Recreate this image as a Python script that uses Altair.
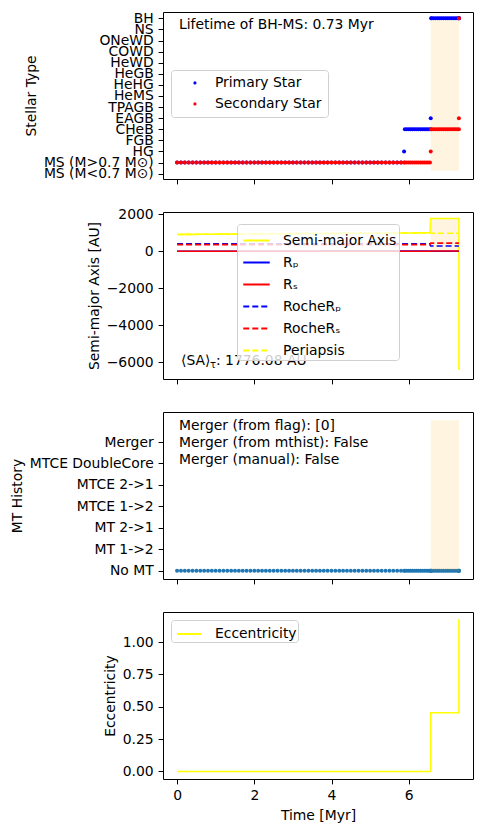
import altair as alt
import pandas as pd

# ---------------- data ----------------
time_myr = [
    0.0, 0.1, 0.2, 0.3, 0.4, 0.5, 0.6, 0.7, 0.8, 0.9,
    1.0, 1.1, 1.2, 1.3, 1.4, 1.5, 1.6, 1.7, 1.8, 1.9,
    2.0, 2.1, 2.2, 2.3, 2.4, 2.5, 2.6, 2.7, 2.8, 2.9,
    3.0, 3.1, 3.2, 3.3, 3.4, 3.5, 3.6, 3.7, 3.8, 3.9,
    4.0, 4.1, 4.2, 4.3, 4.4, 4.5, 4.6, 4.7, 4.8, 4.9,
    5.0, 5.1, 5.2, 5.3, 5.4, 5.5, 5.6, 5.7, 5.8,
    5.88,
    5.9, 5.95, 6.0, 6.05, 6.1, 6.15, 6.2, 6.25, 6.3, 6.35, 6.4, 6.45, 6.5, 6.55,
    6.57,
    6.58, 6.6, 6.65, 6.7, 6.75, 6.8, 6.85, 6.9, 6.95, 7.0, 7.05, 7.1, 7.15, 7.2, 7.25, 7.3,
    7.3, 7.3,
]
primary_type = [1] * 59 + [2] + [4] * 14 + [5] + [14] * 16 + [14, 14]
secondary_type = [1] * 59 + [1] + [1] * 14 + [2] + [4] * 16 + [5, 14]
mt_history = [0] * 93

type_labels = ["MS (M<0.7 M⊙)", "MS (M>0.7 M⊙)", "HG", "FGB", "CHeB", "EAGB", "TPAGB",
               "HeMS", "HeHG", "HeGB", "HeWD", "COWD", "ONeWD", "NS", "BH"]
mt_labels = ["No MT", "MT 1->2", "MT 2->1", "MTCE 1->2", "MTCE 2->1", "MTCE DoubleCore", "Merger"]

bh_ms_start = 6.57
bh_ms_end = 7.30

sma_time = [0.0, 1.0, 2.0, 3.0, 4.0, 5.0, 6.0, 6.55, 6.57, 7.3, 7.3]
sma_au = [910, 925, 940, 955, 968, 980, 992, 1000, 1776, 1776, -6415]
peri_time = [0.0, 1.0, 2.0, 3.0, 4.0, 5.0, 6.0, 6.55, 6.57, 7.3]
peri_au = [910, 925, 940, 955, 968, 980, 992, 1000, 978, 978]
rad_time = [0.0, 6.55, 6.57, 7.3]
rp_au = [1, 12, 0.0, 0.0]
rs_au = [1, 1, 15, 15]
roche_p_au = [405, 405, 290, 290]
roche_s_au = [362, 362, 440, 440]

ecc_time = [0.0, 6.57, 6.57, 7.3, 7.3]
ecc_vals = [0.0, 0.0, 0.454, 0.454, 1.177]

series_names = ["Semi-major Axis", "Rₚ", "Rₛ", "RocheRₚ", "RocheRₛ", "Periapsis"]
series_colors = ["yellow", "blue", "red", "blue", "red", "yellow"]
series_dashes = [[1, 0], [1, 0], [1, 0], [6, 3], [6, 3], [6, 3]]

# ---------------- frames ----------------
n = len(time_myr)
df_types = pd.DataFrame({
    "time": time_myr + time_myr,
    "type": primary_type + secondary_type,
    "star": ["Primary Star"] * n + ["Secondary Star"] * n,
})
df_mt = pd.DataFrame({"time": time_myr, "mt": mt_history})

rows = []
def add(name, ts, vs):
    for i, (t, v) in enumerate(zip(ts, vs)):
        rows.append({"time": t, "value": v, "series": name, "idx": i})
add(series_names[0], sma_time, sma_au)
add(series_names[1], rad_time, rp_au)
add(series_names[2], rad_time, rs_au)
add(series_names[3], rad_time, roche_p_au)
add(series_names[4], rad_time, roche_s_au)
add(series_names[5], peri_time, peri_au)
df_sep = pd.DataFrame(rows)

df_ecc = pd.DataFrame({"time": ecc_time, "ecc": ecc_vals, "series": ["Eccentricity"] * len(ecc_vals),
                       "idx": list(range(len(ecc_vals)))})
df_span = pd.DataFrame({"start": [bh_ms_start], "end": [bh_ms_end], "lo": [0.0], "hi": [1776.0]})

# ---------------- layout ----------------
W, H = 310, 167
FS = 13.9
x_scale = alt.Scale(domain=[-0.365, 7.665], nice=False, zero=False)
x_ax_hidden = alt.Axis(values=[0, 2, 4, 6], labels=False, title=None, grid=False)
x_ax_full = alt.Axis(values=[0, 2, 4, 6], title="Time [Myr]", grid=False, format="d", titlePadding=6)

def arr_expr(lbls):
    return "[" + ",".join("'" + s + "'" for s in lbls) + "][datum.value]"

def txt(s, x, y, size=FS):
    return alt.Chart(pd.DataFrame({"t": [s]})).mark_text(
        align="left", baseline="middle", fontSize=size, font="DejaVu Sans", color="black"
    ).encode(x=alt.value(x), y=alt.value(y), text="t:N")

# Panel 1
shade1 = alt.Chart(df_span).mark_rect(color="orange", opacity=0.12).encode(
    x=alt.X("start:Q", scale=x_scale, axis=x_ax_hidden), x2="end:Q",
    y=alt.value(H * 0.05), y2=alt.value(H * 0.95))
pts1 = alt.Chart(df_types).mark_circle(size=16, opacity=1).encode(
    x=alt.X("time:Q", scale=x_scale, axis=x_ax_hidden),
    y=alt.Y("type:Q", scale=alt.Scale(domain=[-0.48, 14.57], nice=False, zero=False),
            axis=alt.Axis(values=list(range(15)), labelExpr=arr_expr(type_labels),
                          title="Stellar Type", labelOverlap=False, labelFlush=False, grid=False)),
    color=alt.Color("star:N", scale=alt.Scale(domain=["Primary Star", "Secondary Star"], range=["blue", "red"]),
                    legend=alt.Legend(title=None, orient="none", legendX=8, legendY=58,
                                      symbolType="circle", symbolSize=10, labelFontSize=FS,
                                      fillColor="rgba(255,255,255,0.8)", strokeColor="#d0d0d0",
                                      cornerRadius=3, padding=6, rowPadding=6, labelOffset=13,
                                      symbolOffset=11)),
)
p1 = alt.layer(shade1, pts1, txt("Lifetime of BH-MS: 0.73 Myr", 16, 13)).properties(width=W, height=H)

# Panel 2
y2_scale = alt.Scale(domain=[-6900, 2124], nice=False, zero=False)
shade2 = alt.Chart(df_span).mark_rect(color="orange", opacity=0.12).encode(
    x=alt.X("start:Q", scale=x_scale, axis=x_ax_hidden), x2="end:Q",
    y=alt.Y("lo:Q", scale=y2_scale), y2="hi:Q")
line_layers = []
for name in series_names:
    line_layers.append(
        alt.Chart(df_sep).transform_filter(alt.datum.series == name).mark_line(strokeWidth=1.6).encode(
            x=alt.X("time:Q", scale=x_scale, axis=x_ax_hidden),
            y=alt.Y("value:Q", scale=y2_scale,
                    axis=alt.Axis(values=[-6000, -4000, -2000, 0, 2000], format="d",
                                  title="Semi-major Axis [AU]", grid=False)),
            order="idx:Q",
            color=alt.Color("series:N", scale=alt.Scale(domain=series_names, range=series_colors),
                            legend=alt.Legend(title=None, orient="none", legendX=74, legendY=12,
                                              symbolType="stroke", symbolSize=700, symbolStrokeWidth=2,
                                              labelFontSize=FS, fillColor="rgba(255,255,255,0.8)",
                                              strokeColor="#d0d0d0", cornerRadius=3, padding=2,
                                              symbolOffset=3, rowPadding=-0.6, labelOffset=12)),
            strokeDash=alt.StrokeDash("series:N", scale=alt.Scale(domain=series_names, range=series_dashes),
                                      legend=None),
        )
    )
p2 = alt.layer(shade2, *line_layers,
               txt("⟨SA⟩", 18, 149), txt("τ", 47, 153, 10), txt(": 1776.08 AU", 53, 149)
               ).properties(width=W, height=H)

# Panel 3
pts3 = alt.Chart(df_mt).mark_circle(size=16, opacity=1, color="#1f77b4").encode(
    x=alt.X("time:Q", scale=x_scale, axis=x_ax_hidden),
    y=alt.Y("mt:Q", scale=alt.Scale(domain=[-0.385, 7.4], nice=False, zero=False),
            axis=alt.Axis(values=list(range(7)), labelExpr=arr_expr(mt_labels),
                          title="MT History", labelOverlap=False, labelFlush=False, grid=False)))
shade3 = alt.Chart(df_span).mark_rect(color="orange", opacity=0.12).encode(
    x=alt.X("start:Q", scale=x_scale, axis=x_ax_hidden), x2="end:Q",
    y=alt.value(H * 0.05), y2=alt.value(H * 0.95))
p3 = alt.layer(pts3, shade3,
               txt("Merger (from flag): [0]", 16, 14),
               txt("Merger (from mthist): False", 16, 31),
               txt("Merger (manual): False", 16, 48)).properties(width=W, height=H)

# Panel 4
line4 = alt.Chart(df_ecc).mark_line(strokeWidth=1.6).encode(
    x=alt.X("time:Q", scale=x_scale, axis=x_ax_full),
    y=alt.Y("ecc:Q", scale=alt.Scale(domain=[-0.0585, 1.2335], nice=False, zero=False),
            axis=alt.Axis(values=[0, 0.25, 0.5, 0.75, 1.0], format=".2f", title="Eccentricity", grid=False)),
    order="idx:Q",
    color=alt.Color("series:N", scale=alt.Scale(domain=["Eccentricity"], range=["yellow"]),
                    legend=alt.Legend(title=None, orient="none", legendX=8, legendY=8,
                                      symbolType="stroke", symbolSize=576, symbolStrokeWidth=2,
                                      labelFontSize=FS, fillColor="rgba(255,255,255,0.8)",
                                      strokeColor="#d0d0d0", cornerRadius=3, padding=1,
                                      symbolOffset=4, labelOffset=13)),
)
p4 = alt.layer(line4).properties(width=W, height=H)

chart = alt.vconcat(p1, p2, p3, p4, spacing=33, bounds="flush").resolve_scale(
    color="independent", strokeDash="independent", y="independent", x="independent"
).properties(padding={"left": 9, "top": 10, "right": 5, "bottom": 5}).configure(
    font="DejaVu Sans"
).configure_view(stroke="black", strokeWidth=1).configure_axis(
    grid=False, domain=False, tickColor="black", tickSize=4.9, tickWidth=1,
    labelFontSize=FS, titleFontSize=FS, titleFontWeight="normal", labelColor="black",
    titleColor="black", labelFont="DejaVu Sans", titleFont="DejaVu Sans", labelPadding=4.9, titlePadding=5
).configure_legend(labelFont="DejaVu Sans", labelColor="black")

chart.save("out.html", embed_options={"renderer": "svg", "actions": False})
